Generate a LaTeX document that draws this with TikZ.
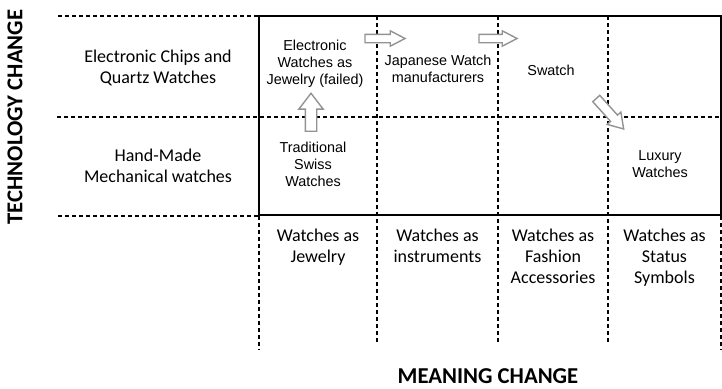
\documentclass[tikz,border=0pt]{standalone}
\usepackage{fontspec}
\setmainfont{Carlito}
\newfontfamily\cellfont{Liberation Sans}
\usetikzlibrary{shapes.arrows}

\begin{document}
\begin{tikzpicture}[
        x=1pt,
        y=-1pt,
        thick
    ]
    \tikzset{
        axislabel/.style = {font=\fontsize{22.7}{26}\selectfont\bfseries},
        rowlabel/.style = {align=center, font=\fontsize{18}{21}\selectfont},
        collabel/.style = {align=center, anchor=north, font=\fontsize{18}{21}\selectfont},
        cell/.style = {align=center, font=\cellfont\fontsize{14.4}{17}\selectfont},
        gridline/.style = {line width=1.1pt, dash pattern=on 4pt off 3pt},
        framebox/.style = {line width=2pt},
        movearrow/.style = {single arrow, draw=gray!85, fill=white, line width=1.4pt,
            inner xsep=0pt, single arrow head indent=0pt},
    }
        \useasboundingbox (0,0) rectangle (722,388);
        % grid
        \draw[gridline] (58,16) -- (259,16);
        \draw[gridline] (57,117) -- (721,117);
        \draw[gridline] (58,216) -- (259,216);
        \draw[gridline] (259,216) -- (259,350);
        \draw[gridline] (721,216) -- (721,350);
        \foreach \x in {377,498,608}
            \draw[gridline] (\x,16) -- (\x,343);
        \draw[framebox] (259,16) rectangle (720.5,215);
        %
        \node[axislabel, rotate=90] at (15,117) (tech) {TECHNOLOGY CHANGE};
        \node[axislabel] at (488,376) (meaning) {MEANING CHANGE};
        %
        \node[rowlabel] at (158,68) (quartz) {Electronic Chips and\\Quartz Watches};
        \node[rowlabel] at (158,166) (mech) {Hand-Made\\Mechanical watches};
        %
        \node[collabel] at (318,225) (jewel) {Watches as\\Jewelry};
        \node[collabel] at (437.5,225) (instr) {Watches as\\instruments};
        \node[collabel] at (553,225) (fashion) {Watches as\\Fashion\\Accessories};
        \node[collabel] at (664.5,225) (status) {Watches as\\Status\\Symbols};
        %
        \node[cell] at (315,64) (elec) {Electronic\\Watches as\\Jewelry (failed)};
        \node[cell] at (313,164) (swiss) {Traditional\\Swiss\\Watches};
        \node[cell] at (438,68.5) (japan) {Japanese Watch\\manufacturers};
        \node[cell] at (551,70) (swatch) {Swatch};
        \node[cell] at (660,164) (luxury) {Luxury\\Watches};
        %
        \node[movearrow, rotate=90, inner ysep=5pt, single arrow head extend=6.5pt,
            minimum height=38pt, single arrow tip angle=75] at (311,116) (upa) {};
        \node[movearrow, inner ysep=3.5pt, single arrow head extend=3.5pt,
            minimum height=40pt, single arrow tip angle=55] at (381,38.5) (righta) {};
        \node[movearrow, inner ysep=3.5pt, single arrow head extend=3.5pt,
            minimum height=38pt, single arrow tip angle=55] at (494,38.5) (rightb) {};
        \node[movearrow, rotate=-48, inner ysep=4pt, single arrow head extend=4.5pt,
            minimum height=41pt, single arrow tip angle=65] at (607.5,111) (diaga) {};
    \end{tikzpicture}
\end{document}
